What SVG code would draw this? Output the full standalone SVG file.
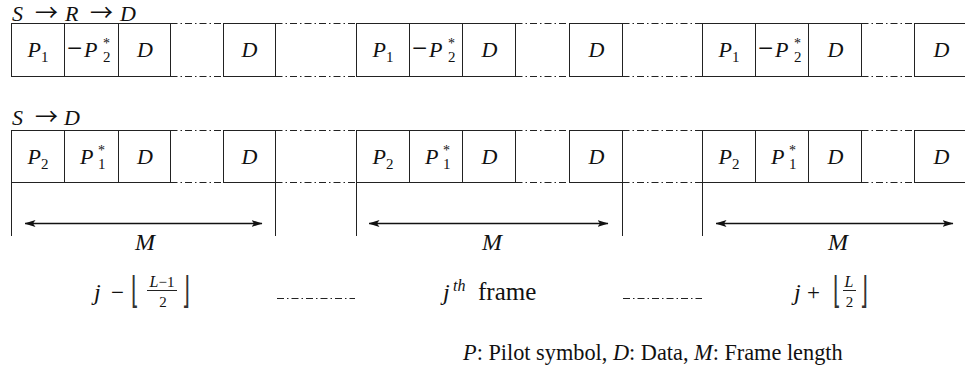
<svg xmlns="http://www.w3.org/2000/svg" width="965" height="372" viewBox="0 0 965 372">
<defs>
<marker id="ah" viewBox="0 0 11 7" refX="10.5" refY="3.5" markerWidth="11" markerHeight="7" markerUnits="userSpaceOnUse" orient="auto-start-reverse">
<path d="M0,0 L11,3.5 L0,7 L2.5,3.5 z" fill="#111"/>
</marker>
</defs>
<style>
.c{fill:#fff;stroke:#222;stroke-width:1}
.dd{stroke:#222;stroke-width:1;stroke-dasharray:7 3 1.5 3;fill:none}
.ln{stroke:#222;stroke-width:1;fill:none}
.ar{stroke:#111;stroke-width:1.3;fill:none;marker-start:url(#ah);marker-end:url(#ah)}
text{font-family:"Liberation Serif","DejaVu Serif",serif;fill:#111}
.m{font-style:italic;font-size:22px}
.mm{font-style:italic;font-size:24px}
.op{font-size:23px;font-style:normal}
.mi{font-size:27px;font-style:normal}
.rar{font-family:"Noto Sans CJK JP","Noto Sans CJK SC","DejaVu Sans",sans-serif;font-size:23px;font-style:normal}
.s{font-size:15px;font-style:normal}
.st{font-size:14px;font-style:normal}
.si{font-size:16px;font-style:italic}
.lg{font-size:22.3px}
.fl{font-family:"DejaVu Sans",sans-serif;font-size:37px;font-style:normal;fill:#333}
</style>

<g id="labels">
<text id="lbl-srd" class="m" y="21"><tspan x="12">S</tspan><tspan class="rar" x="35">→</tspan><tspan x="65">R</tspan><tspan class="rar" x="90">→</tspan><tspan x="120">D</tspan></text>
<text id="lbl-sd" class="m" y="125"><tspan x="12">S</tspan><tspan class="rar" x="35">→</tspan><tspan x="64">D</tspan></text>
</g>

<g id="connectors">
<path class="dd" d="M170.5,23.5H223.5M170.5,76.5H223.5M275.5,23.5H356.5M275.5,76.5H356.5M515.5,23.5H569.5M515.5,76.5H569.5M622.5,23.5H702.5M622.5,76.5H702.5M861.5,23.5H914.5M861.5,76.5H914.5"/>
<path class="dd" d="M170.5,130.5H223.5M170.5,182.5H223.5M275.5,130.5H356.5M275.5,182.5H356.5M515.5,130.5H569.5M515.5,182.5H569.5M622.5,130.5H702.5M622.5,182.5H702.5M861.5,130.5H914.5M861.5,182.5H914.5"/>
<path class="ln" d="M11.5,182.5V236M275.5,182.5V236M356.5,182.5V236M622.5,182.5V236M702.5,182.5V236"/>
<line class="ar" x1="25" y1="223.5" x2="262" y2="223.5"/>
<line class="ar" x1="369" y1="223.5" x2="608" y2="223.5"/>
<line class="ar" x1="716" y1="223.5" x2="953" y2="223.5"/>
<line class="dd" x1="277" y1="298.5" x2="355" y2="298.5"/>
<line class="dd" x1="623" y1="298.5" x2="702" y2="298.5"/>
</g>

<!-- Frame 1 top -->
<g id="f1-srd-p1"><rect class="c" x="11.5" y="23.5" width="53" height="53"/><text class="m" x="38" y="57" text-anchor="middle">P<tspan class="s" dy="5">1</tspan></text></g>
<g id="f1-srd-p2"><rect class="c" x="64.5" y="23.5" width="54" height="53"/><text class="m" y="57"><tspan class="mi" x="67">−</tspan><tspan x="84">P</tspan><tspan class="st" x="103" dy="-9">*</tspan><tspan class="s" x="103" dy="14">2</tspan></text></g>
<g id="f1-srd-d1"><rect class="c" x="118.5" y="23.5" width="52" height="53"/><text class="m" x="145" y="57" text-anchor="middle">D</text></g>
<g id="f1-srd-d2"><rect class="c" x="223.5" y="23.5" width="52" height="53"/><text class="m" x="249.5" y="57" text-anchor="middle">D</text></g>

<!-- Frame 2 top -->
<g id="f2-srd-p1"><rect class="c" x="356.5" y="23.5" width="53" height="53"/><text class="m" x="383" y="57" text-anchor="middle">P<tspan class="s" dy="5">1</tspan></text></g>
<g id="f2-srd-p2"><rect class="c" x="409.5" y="23.5" width="53" height="53"/><text class="m" y="57"><tspan class="mi" x="412">−</tspan><tspan x="429">P</tspan><tspan class="st" x="448" dy="-9">*</tspan><tspan class="s" x="448" dy="14">2</tspan></text></g>
<g id="f2-srd-d1"><rect class="c" x="462.5" y="23.5" width="53" height="53"/><text class="m" x="489.5" y="57" text-anchor="middle">D</text></g>
<g id="f2-srd-d2"><rect class="c" x="569.5" y="23.5" width="53" height="53"/><text class="m" x="596.5" y="57" text-anchor="middle">D</text></g>

<!-- Frame 3 top -->
<g id="f3-srd-p1"><rect class="c" x="702.5" y="23.5" width="53" height="53"/><text class="m" x="729" y="57" text-anchor="middle">P<tspan class="s" dy="5">1</tspan></text></g>
<g id="f3-srd-p2"><rect class="c" x="755.5" y="23.5" width="53" height="53"/><text class="m" y="57"><tspan class="mi" x="758">−</tspan><tspan x="775">P</tspan><tspan class="st" x="794" dy="-9">*</tspan><tspan class="s" x="794" dy="14">2</tspan></text></g>
<g id="f3-srd-d1"><rect class="c" x="808.5" y="23.5" width="53" height="53"/><text class="m" x="835.5" y="57" text-anchor="middle">D</text></g>
<g id="f3-srd-d2"><rect class="c" x="914.5" y="23.5" width="53" height="53"/><text class="m" x="941.5" y="57" text-anchor="middle">D</text></g>

<!-- Frame 1 bottom -->
<g id="f1-sd-p2"><rect class="c" x="11.5" y="130.5" width="53" height="52"/><text class="m" x="38" y="163.5" text-anchor="middle">P<tspan class="s" dy="5">2</tspan></text></g>
<g id="f1-sd-p1"><rect class="c" x="64.5" y="130.5" width="54" height="52"/><text class="m" y="163.5"><tspan x="80">P</tspan><tspan class="st" x="98" dy="-9">*</tspan><tspan class="s" x="98" dy="14">1</tspan></text></g>
<g id="f1-sd-d1"><rect class="c" x="118.5" y="130.5" width="52" height="52"/><text class="m" x="145" y="163.5" text-anchor="middle">D</text></g>
<g id="f1-sd-d2"><rect class="c" x="223.5" y="130.5" width="52" height="52"/><text class="m" x="249.5" y="163.5" text-anchor="middle">D</text></g>

<!-- Frame 2 bottom -->
<g id="f2-sd-p2"><rect class="c" x="356.5" y="130.5" width="53" height="52"/><text class="m" x="383" y="163.5" text-anchor="middle">P<tspan class="s" dy="5">2</tspan></text></g>
<g id="f2-sd-p1"><rect class="c" x="409.5" y="130.5" width="53" height="52"/><text class="m" y="163.5"><tspan x="425">P</tspan><tspan class="st" x="443" dy="-9">*</tspan><tspan class="s" x="443" dy="14">1</tspan></text></g>
<g id="f2-sd-d1"><rect class="c" x="462.5" y="130.5" width="53" height="52"/><text class="m" x="489.5" y="163.5" text-anchor="middle">D</text></g>
<g id="f2-sd-d2"><rect class="c" x="569.5" y="130.5" width="53" height="52"/><text class="m" x="596.5" y="163.5" text-anchor="middle">D</text></g>

<!-- Frame 3 bottom -->
<g id="f3-sd-p2"><rect class="c" x="702.5" y="130.5" width="53" height="52"/><text class="m" x="729" y="163.5" text-anchor="middle">P<tspan class="s" dy="5">2</tspan></text></g>
<g id="f3-sd-p1"><rect class="c" x="755.5" y="130.5" width="53" height="52"/><text class="m" y="163.5"><tspan x="771">P</tspan><tspan class="st" x="789" dy="-9">*</tspan><tspan class="s" x="789" dy="14">1</tspan></text></g>
<g id="f3-sd-d1"><rect class="c" x="808.5" y="130.5" width="53" height="52"/><text class="m" x="835.5" y="163.5" text-anchor="middle">D</text></g>
<g id="f3-sd-d2"><rect class="c" x="914.5" y="130.5" width="53" height="52"/><text class="m" x="941.5" y="163.5" text-anchor="middle">D</text></g>

<g id="m-labels">
<text class="mm" x="145" y="250" text-anchor="middle">M</text>
<text class="mm" x="492" y="250" text-anchor="middle">M</text>
<text class="mm" x="838" y="250" text-anchor="middle">M</text>
</g>

<g id="idx-left">
<text class="mm" x="94" y="300">j</text>
<text class="op" x="111" y="300">−</text>
<text class="fl" transform="translate(131,303) scale(0.55,1)">⌊</text>
<text class="si" x="162" y="287" text-anchor="middle">L<tspan class="s">−1</tspan></text>
<line class="ln" x1="147" y1="290.5" x2="177" y2="290.5"/>
<text class="s" x="163" y="307" text-anchor="middle">2</text>
<text class="fl" transform="translate(182,303) scale(0.55,1)">⌋</text>
</g>
<g id="idx-mid">
<text class="mm" y="300"><tspan x="443">j</tspan><tspan class="si" x="453" dy="-9">th</tspan><tspan font-style="normal" font-size="25px" x="478" dy="9">frame</tspan></text>
</g>
<g id="idx-right">
<text class="mm" x="794" y="300">j</text>
<text class="op" font-size="26px" x="807" y="300">+</text>
<text class="fl" transform="translate(833,303) scale(0.55,1)">⌊</text>
<text class="si" x="849" y="287" text-anchor="middle">L</text>
<line class="ln" x1="843" y1="290.5" x2="856" y2="290.5"/>
<text class="s" x="849.5" y="307" text-anchor="middle">2</text>
<text class="fl" transform="translate(860,303) scale(0.55,1)">⌋</text>
</g>

<g id="legend">
<text class="lg" x="463" y="360"><tspan font-style="italic">P</tspan>: Pilot symbol, <tspan font-style="italic">D</tspan>: Data, <tspan font-style="italic">M</tspan>: Frame length</text>
</g>
</svg>
